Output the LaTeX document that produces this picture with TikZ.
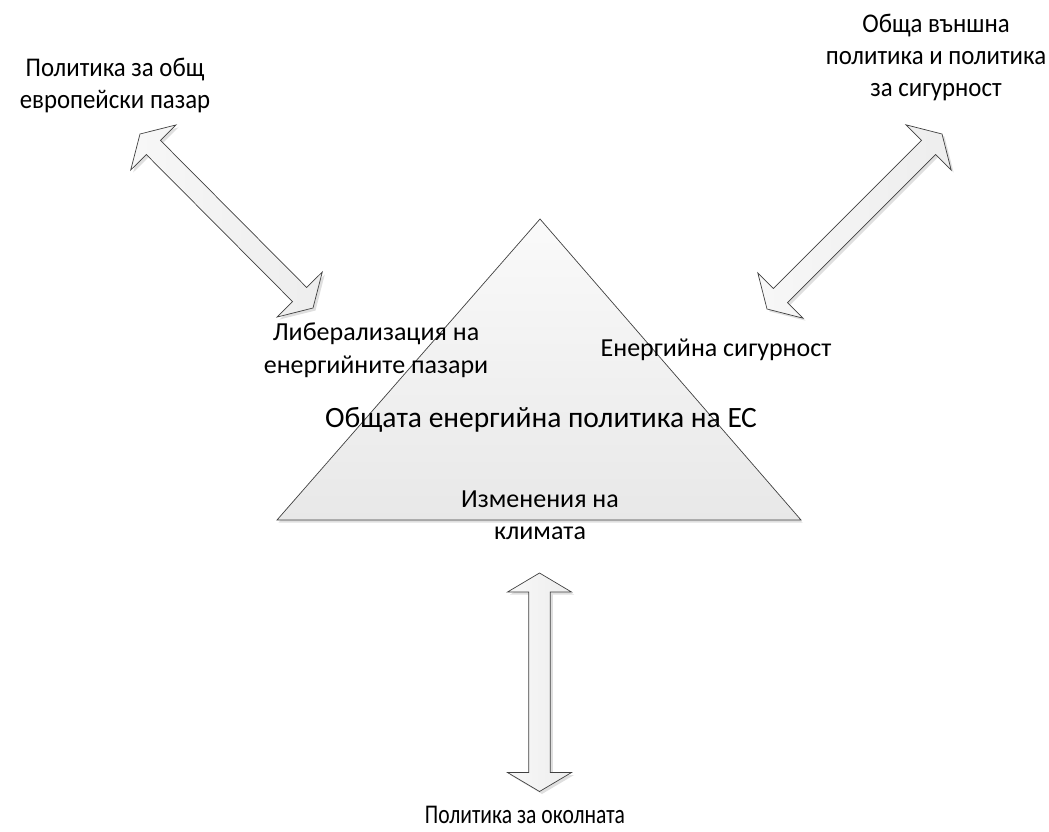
\documentclass[tikz,border=0pt]{standalone}
\usepackage{fontspec}
\setmainfont{Carlito}
\newfontfamily\condfont[FakeStretch=0.92]{Carlito}
\newfontfamily\narrowfont[FakeStretch=0.8]{Carlito}
\usetikzlibrary{calc,shadows}
\newcommand\BlockArrow[3][]{%
  \draw[blockarrow,#1] (#2)
    -- ($(#2)!\ahl!(#3)!\ahw!90:(#3)$)
    -- ($(#2)!\ahl!(#3)!\asw!90:(#3)$)
    -- ($(#3)!\ahl!(#2)!\asw!-90:(#2)$)
    -- ($(#3)!\ahl!(#2)!\ahw!-90:(#2)$)
    -- (#3)
    -- ($(#3)!\ahl!(#2)!\ahw!90:(#2)$)
    -- ($(#3)!\ahl!(#2)!\asw!90:(#2)$)
    -- ($(#2)!\ahl!(#3)!\asw!-90:(#3)$)
    -- ($(#2)!\ahl!(#3)!\ahw!-90:(#3)$)
    -- cycle;}
\def\ahl{19pt}
\def\ahw{32pt}
\def\asw{10pt}
\tikzset{
  outline/.style={draw=black!75, line width=0.7pt, line join=miter},
  blockarrow/.style={outline, left color=white!97!black, right color=black!7,
    drop shadow={opacity=0.25, shadow xshift=2.5pt, shadow yshift=-2.5pt}},
  pyramid/.style={outline, top color=white!98!black, bottom color=black!9,
    drop shadow={opacity=0.25, shadow xshift=1.5pt, shadow yshift=-2.5pt}},
  lbl/.style={align=center, inner sep=0pt, font=\fontsize{26}{32.5}\selectfont},
  cornerlbl/.style={align=center, inner sep=0pt, font=\condfont\fontsize{27}{32}\selectfont},
  bottomlbl/.style={align=center, inner sep=0pt, font=\narrowfont\fontsize{27}{32}\selectfont},
  biglbl/.style={align=center, inner sep=0pt, font=\fontsize{29.5}{35}\selectfont}
}
\begin{document}
\begin{tikzpicture}[x=1pt,y=-1pt]
\useasboundingbox (0,0) rectangle (1049,832);
% pyramid
\coordinate (apex) at (540,219);
\coordinate (bl) at (277,520);
\coordinate (br) at (801,520);
\path[pyramid] (apex) -- (br) -- (bl) -- cycle;
% arrow end points
\coordinate (la) at (140,134);
\coordinate (lb) at (313,308);
\coordinate (ra) at (942,134);
\coordinate (rb) at (767,309);
\coordinate (va) at (539.5,573);
\coordinate (vb) at (539.5,791.5);
\BlockArrow{la}{lb}
\BlockArrow{ra}{rb}
\def\asw{10.8pt}
\BlockArrow{va}{vb}
% labels
\node[cornerlbl] (market) at (115,85) {Политика за общ\\европейски пазар};
\node[cornerlbl] (foreign) at (936,57) {Обща външна\\политика и политика\\за сигурност};
\node[lbl] (liberal) at (376,350) {Либерализация на\\енергийните пазари};
\node[lbl] (security) at (716,350) {Енергийна сигурност};
\node[biglbl] (common) at (541,420) {Общата енергийна политика на ЕС};
\node[lbl] (climate) at (540,515) {Изменения на\\климата};
\node[bottomlbl] (env) at (525,815) {Политика за околната};
\end{tikzpicture}
\end{document}
